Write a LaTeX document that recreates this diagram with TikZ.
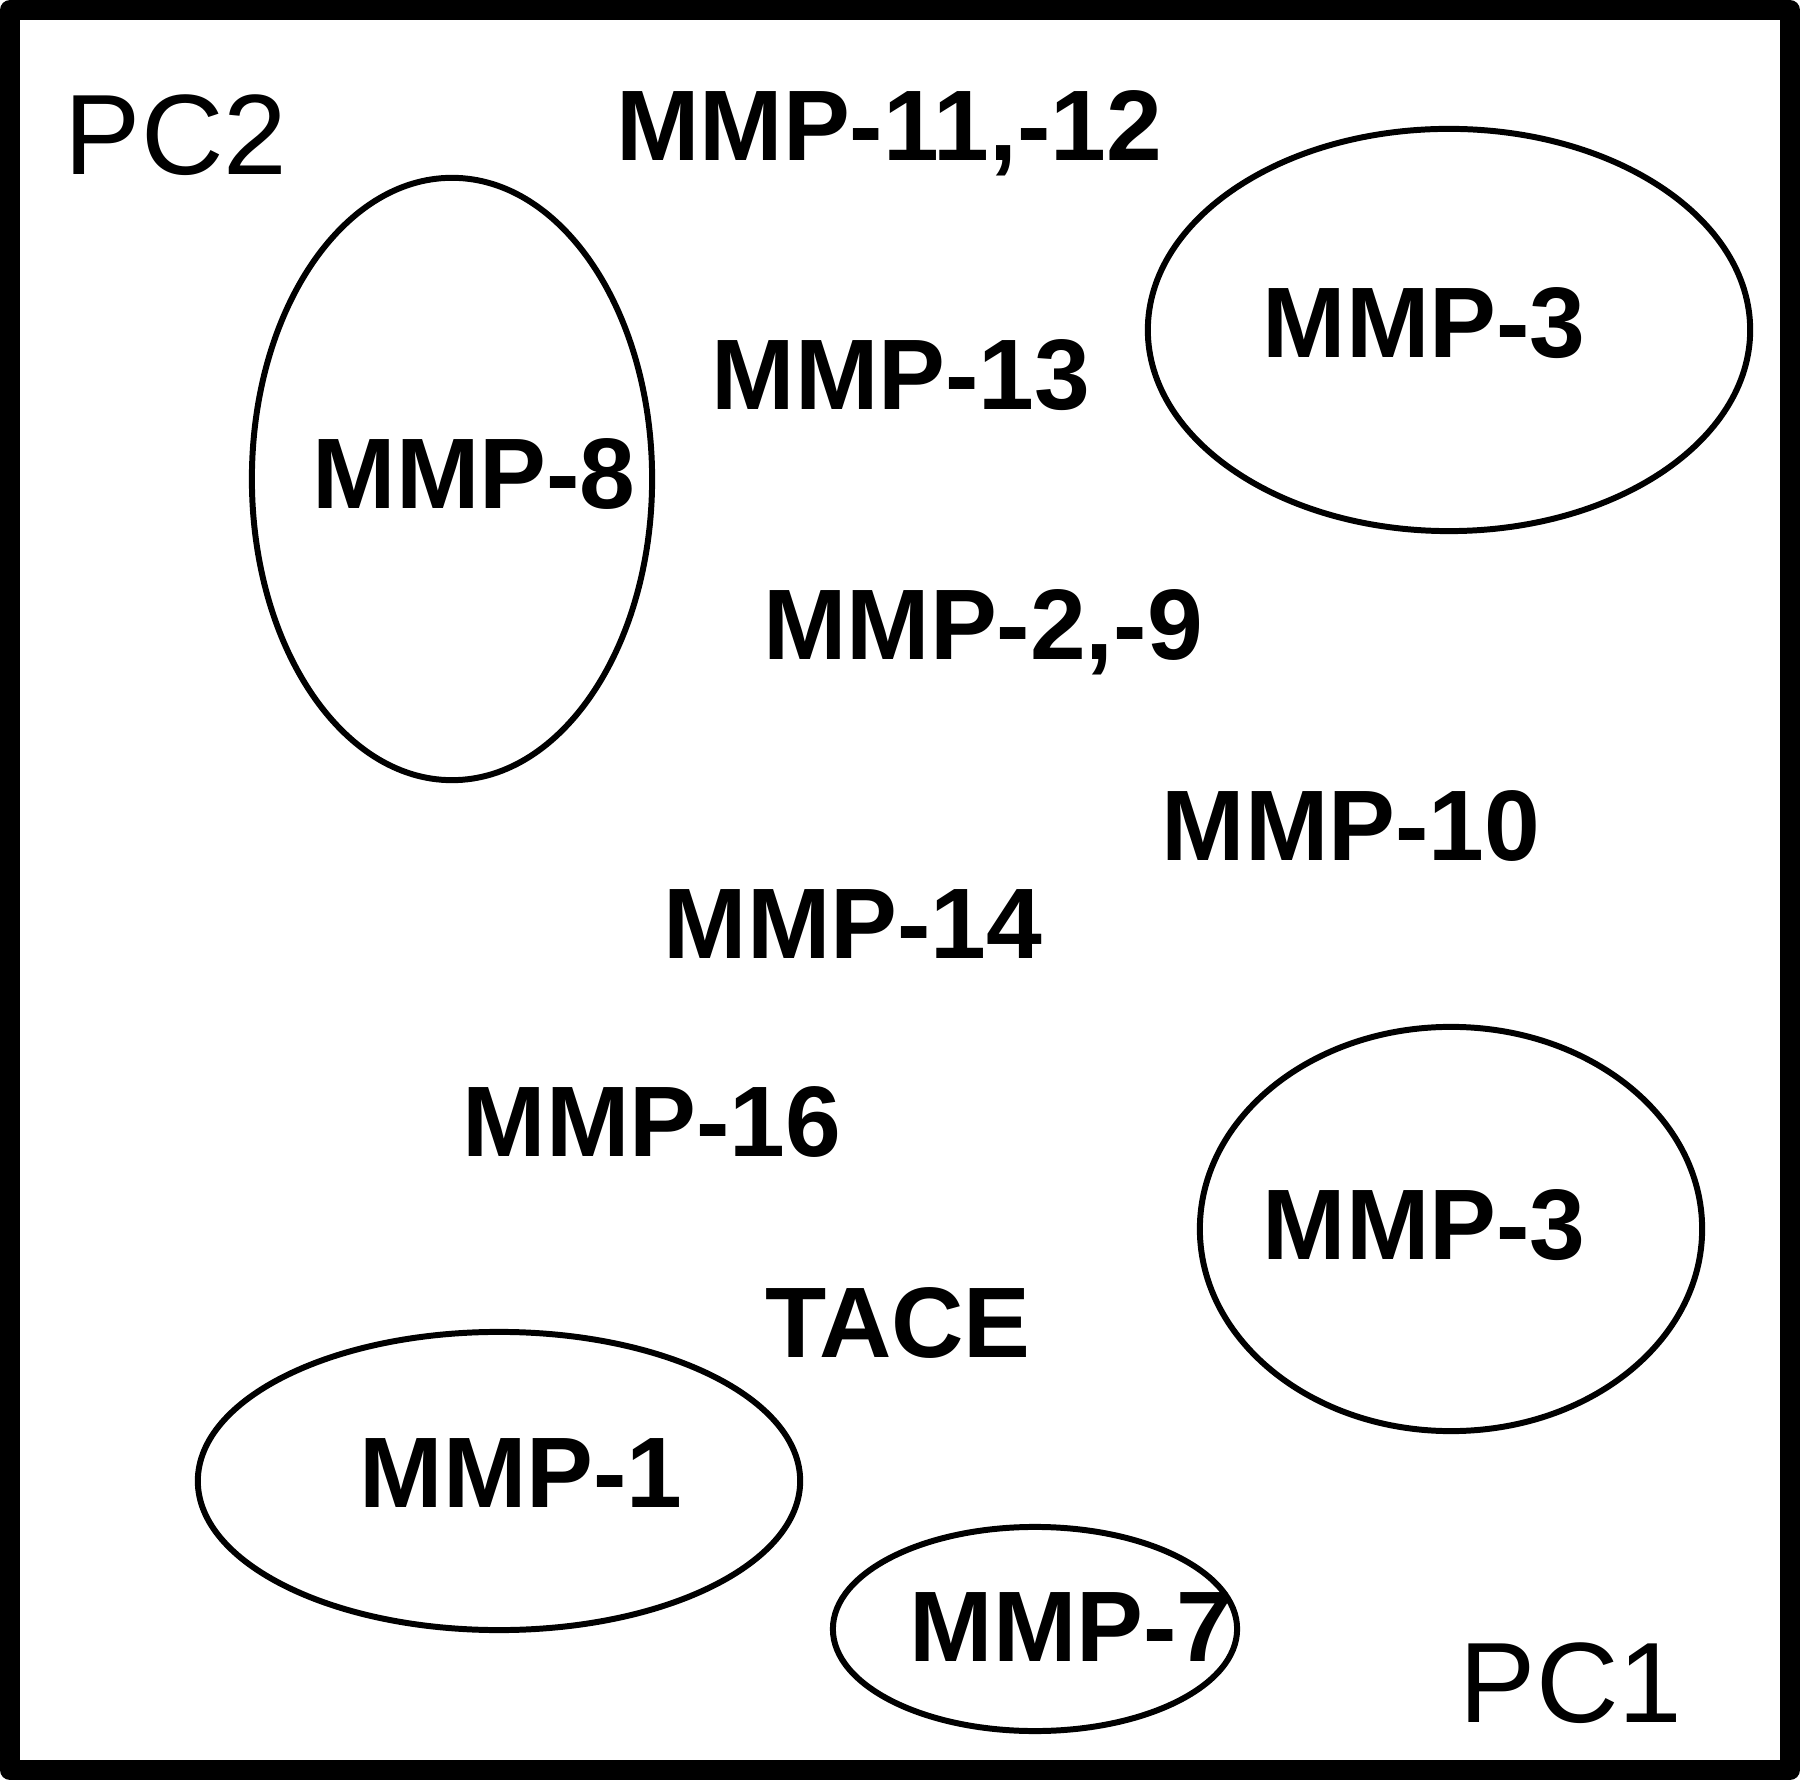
\documentclass[tikz,border=0pt]{standalone}
\usepackage{fontspec}
\setmainfont{Liberation Sans}
\begin{document}
\begin{tikzpicture}[x=0.01cm,y=-0.01cm,
  lbl/.style={anchor=base,inner sep=0pt,font=\bfseries\fontsize{28.5pt}{30pt}\selectfont},
  pclbl/.style={anchor=base,inner sep=0pt,font=\fontsize{32.5pt}{34pt}\selectfont},
  ring/.style={line width=1.7pt}]
\useasboundingbox (0,0) rectangle (1800,1780);
\draw[line width=0.2cm,line join=round] (10,10) rectangle (1790,1770);
% ellipses
\draw[ring] (452,479) ellipse [x radius=2.00cm, y radius=3.01cm];
\draw[ring] (1449,330) ellipse [x radius=3.01cm, y radius=2.01cm];
\draw[ring] (1451,1229) ellipse [x radius=2.51cm, y radius=2.02cm];
\draw[ring] (499,1481) ellipse [x radius=3.01cm, y radius=1.49cm];
\draw[ring] (1035,1629) ellipse [x radius=2.02cm, y radius=1.02cm];
% labels
\node[pclbl] (pc2) at (176,175) {PC2};
\node[pclbl] (pc1) at (1571,1722) {PC1};
\node[lbl] (m1112) at (889,161) {MMP-11,-12};
\node[lbl] (m3a) at (1424,358) {MMP-3};
\node[lbl] (m13) at (901,410) {MMP-13};
\node[lbl] (m8) at (474,509) {MMP-8};
\node[lbl] (m29) at (983,660) {MMP-2,-9};
\node[lbl] (m10) at (1351,861) {MMP-10};
\node[lbl] (m14) at (853,959) {MMP-14};
\node[lbl] (m16) at (652,1156) {MMP-16};
\node[lbl] (m3b) at (1424,1259) {MMP-3};
\node[lbl] (tace) at (898,1357) {TACE};
\node[lbl] (m1) at (521,1507) {MMP-1};
\node[lbl] (m7) at (1071,1661) {MMP-7};
\end{tikzpicture}
\end{document}
